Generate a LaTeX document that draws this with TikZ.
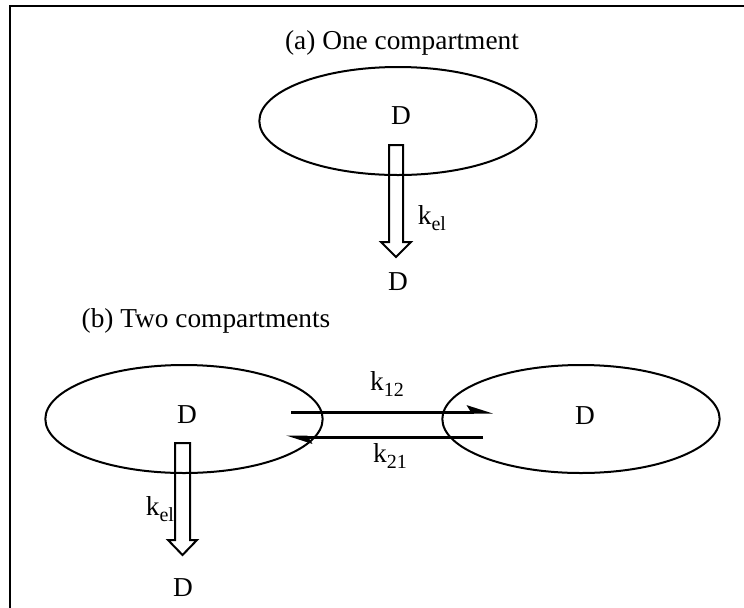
\documentclass[tikz,border=0pt]{standalone}
\usepackage{fontspec}
\setmainfont{Liberation Serif}
\usetikzlibrary{arrows.meta,shapes.geometric}
\newcommand{\lowsub}[1]{\raisebox{-0.45ex}{\fontsize{15}{18}\selectfont #1}}
\begin{document}
\begin{tikzpicture}[x=0.75pt,y=-0.75pt,
  font=\fontsize{20.5}{24}\selectfont,
  comp/.style={draw, ellipse, line width=1.5pt, inner sep=0pt, minimum width=208pt, minimum height=81pt},
  flow/.style={line width=2.25pt, -{Stealth[harpoon, length=16pt, width=10pt, inset=3pt]}},
  hollow/.style={draw, line width=1.5pt, line join=miter}]
\useasboundingbox (0,0) rectangle (744,608);
% frame
\draw[line width=1.5pt] (10,608) -- (10,6) -- (744,6);

% (a) one compartment
\node (ta) at (402,43) {(a) One compartment};
\node[comp] (one) at (398,121) {};
\node (d1) at (401,116) {D};
\node (out1) at (398,282) {D};
\node (kel1) at (432,218) {k\lowsub{el}};
\coordinate (el1) at (396,145);
\draw[hollow] (el1) ++(-7,0) -- ++(14,0) -- ++(0,97) -- ++(8,0) -- ++(-15,15) -- ++(-15,-15) -- ++(8,0) -- cycle;

% (b) two compartments
\node[anchor=west] (tb) at (77,321) {(b) Two compartments};
\node[comp] (cen) at (184,419) {};
\node[comp] (per) at (581,419) {};
\node (d2) at (187,415) {D};
\node (d3) at (585,416) {D};
\node (out2) at (183,588) {D};
\node (kel2) at (160,509) {k\lowsub{el}};
\node (k12) at (387,384) {k\lowsub{12}};
\node (k21) at (390,456) {k\lowsub{21}};
\coordinate (s12) at (291,412);
\coordinate (e12) at (493,412);
\coordinate (s21) at (483,437);
\coordinate (e21) at (286,437);
\draw[flow] (s12) -- (e12);
\draw[flow] (s21) -- (e21);
\coordinate (el2) at (182.5,443);
\draw[hollow] (el2) ++(-7.5,0) -- ++(15,0) -- ++(0,97) -- ++(7,0) -- ++(-14.5,15) -- ++(-14.5,-15) -- ++(7,0) -- cycle;
\end{tikzpicture}
\end{document}
